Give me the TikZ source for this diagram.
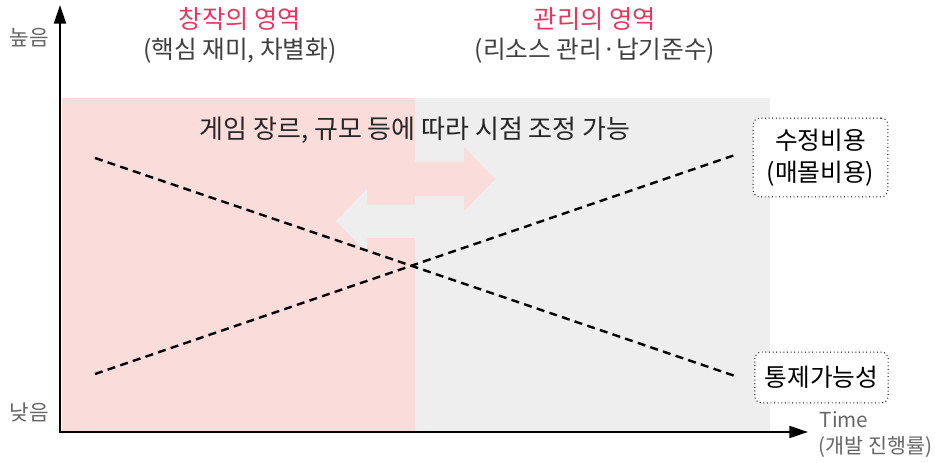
\documentclass[tikz,border=0pt]{standalone}
\usepackage{fontspec}
\setmainfont{Noto Sans CJK KR}
\usetikzlibrary{arrows.meta,shapes.arrows}
\definecolor{pinkbg}{HTML}{FADDDB}
\definecolor{graybg}{HTML}{EEEEEE}
\definecolor{titlered}{HTML}{E8375F}
\definecolor{subgray}{HTML}{404040}
\definecolor{axgray}{HTML}{666666}
\tikzset{
  axis/.style={line width=1.5pt,-{Triangle[length=14pt,width=9pt]}},
  trend/.style={line width=1.8pt,dash pattern=on 6pt off 4pt},
  title/.style={text=titlered,font=\fontsize{19}{22}\selectfont},
  subtitle/.style={text=subgray,font=\fontsize{18.5}{22}\selectfont},
  axlabel/.style={text=axgray,font=\fontsize{15.5}{18}\selectfont},
  infobox/.style={draw,dotted,line width=0.7pt,rounded corners=5pt,fill=white,align=center,inner sep=0pt,font=\fontsize{18.5}{24}\selectfont}
}
\begin{document}
\begin{tikzpicture}[x=0.75pt,y=-0.75pt]
\useasboundingbox (0,0) rectangle (935,463);
% regions
\fill[pinkbg] (62,98) rectangle (415,432);
\fill[graybg] (415,98) rectangle (770,432);
% big arrows
\fill[pinkbg] (415,162) -- (464,162) -- (464,147) -- (495,179) -- (464,211) -- (464,196) -- (415,196) -- cycle;
\fill[graybg] (415,205) -- (367,205) -- (367,189) -- (336,221) -- (367,253) -- (367,238) -- (415,238) -- cycle;
% axes
\coordinate (origin) at (60,432);
\coordinate (ytip) at (60,5);
\coordinate (xtip) at (808,432);
\draw[axis] (origin) -- (ytip);
\draw[axis] ([xshift=-0.75pt]origin) -- (xtip);
% trend lines
\coordinate (a1) at (95,158);
\coordinate (a2) at (735,376);
\coordinate (b1) at (95,374);
\coordinate (b2) at (735,155);
\draw[trend] (a1) -- (a2);
\draw[trend] (b1) -- (b2);
% titles
\node[title] (t1) at (240,19) {창작의 영역};
\node[subtitle] (s1) at (240,51) {(핵심 재미, 차별화)};
\node[title] (t2) at (595,19) {관리의 영역};
\node[subtitle] (s2) at (595,51) {(리소스 관리·납기준수)};
\node[subtitle,text=black!85,font=\fontsize{19.5}{22}\selectfont] (note) at (415,130) {게임 장르, 규모 등에 따라 시점 조정 가능};
% axis labels
\node[axlabel,font=\fontsize{16}{18}\selectfont] (high) at (29,38) {높음};
\node[axlabel,font=\fontsize{16}{18}\selectfont] (low) at (29,412) {낮음};
\node[axlabel,anchor=west] (time) at (815,420) {Time};
\node[axlabel,anchor=west] (timesub) at (814,447) {(개발 진행률)};
% boxes
\node[infobox,minimum width=101pt,minimum height=59pt] (cost) at (820.5,157.5) {수정비용\\(매몰비용)};
\node[infobox,minimum width=100pt,minimum height=38pt] (ctrl) at (821.5,377.5) {통제가능성};
\end{tikzpicture}
\end{document}
